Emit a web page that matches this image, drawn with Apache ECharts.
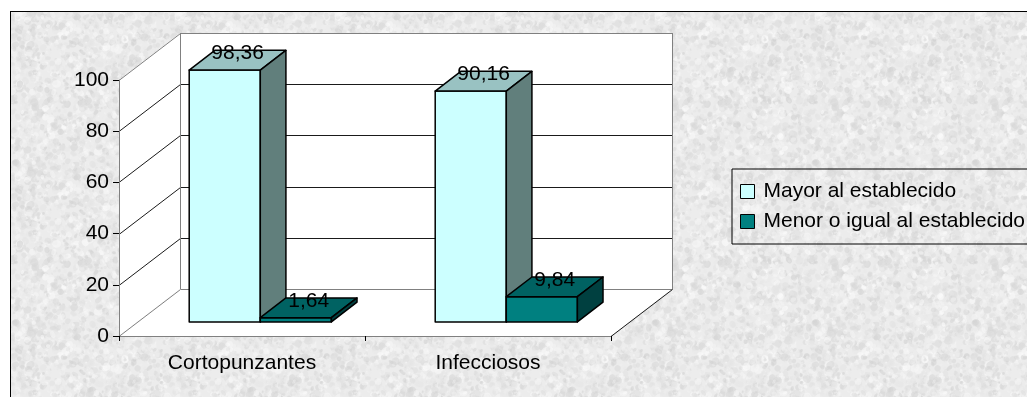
<!DOCTYPE html>
<html>
<head>
<meta charset="utf-8">
<script src="https://cdn.jsdelivr.net/npm/echarts@6/dist/echarts.min.js"></script>
<style>
  html, body { margin: 0; padding: 0; background: #fff; }
  #chart { width: 1027px; height: 397px; }
</style>
</head>
<body>
<div id="chart"></div>
<script>
// ---- data ----
const categories = ['Cortopunzantes', 'Infecciosos'];
const seriesNames = ['Mayor al establecido', 'Menor o igual al establecido'];
const mayorValues = [98.36, 90.16];
const menorValues = [1.64, 9.84];
const yTicks = [0, 20, 40, 60, 80, 100];

// ---- 3D look ----
const DEPTH = [61, -47];          // offset from front plane to back wall
const BAR_FRONT = 0.30;           // bar front face, as a fraction of the depth
const BAR_BACK = 0.72;            // bar back face
const BAR_FRAC = 0.289;           // bar width as a fraction of the category band
const FONT = "'Liberation Sans', Arial, sans-serif";
const FS = 21;

const faces = [
  { front: '#CCFFFF', top: '#99C2C2', side: '#617F7C' },
  { front: '#008080', top: '#006262', side: '#004040' }
];

// granite-like backdrop texture (seeded so it is stable)
function makeTexture() {
  let s = 20240611;
  const rnd = () => { s |= 0; s = s + 0x6D2B79F5 | 0; let t = Math.imul(s ^ s >>> 15, 1 | s);
    t = t + Math.imul(t ^ t >>> 7, 61 | t) ^ t; return ((t ^ t >>> 14) >>> 0) / 4294967296; };
  const N = 160;
  const raw = document.createElement('canvas');
  raw.width = raw.height = N;
  const g = raw.getContext('2d');
  g.fillStyle = '#ececec';
  g.fillRect(0, 0, N, N);
  for (let i = 0; i < 2200; i++) {
    const x = rnd() * N, y = rnd() * N;
    const r = 1 + rnd() * 3;
    const v = Math.round(206 + rnd() * 48);
    const a = 0.35 + rnd() * 0.25;
    g.fillStyle = 'rgba(' + v + ',' + v + ',' + v + ',' + a.toFixed(2) + ')';
    const ry = r * (0.5 + rnd() * 0.7), rot = rnd() * 3.14;
    for (const ox of [-N, 0, N]) for (const oy of [-N, 0, N]) {
      g.beginPath();
      g.ellipse(x + ox, y + oy, r, ry, rot, 0, Math.PI * 2);
      g.fill();
    }
  }
  const out = document.createElement('canvas');
  out.width = out.height = N;
  const o = out.getContext('2d');
  o.filter = 'blur(0.7px)';
  for (const ox of [-N, 0, N]) for (const oy of [-N, 0, N]) o.drawImage(raw, ox, oy);
  return out;
}

function fmt(v) { return v.toFixed(2).replace('.', ','); }

// back wall, side wall, floor and their grid lines
function renderWalls(params, api) {
  const cs = params.coordSys;
  const x0 = cs.x, x1 = cs.x + cs.width;
  const yb = api.coord([0, 0])[1];
  const yt = api.coord([0, 100])[1];
  const dx = DEPTH[0], dy = DEPTH[1];
  const gray = '#808080', dark = '#1a1a1a';
  const children = [
    { type: 'polygon', shape: { points: [[x0, yb], [x0 + dx, yb + dy], [x0 + dx, yt + dy], [x0, yt]] },
      style: { fill: '#fff' } },
    { type: 'rect', shape: { x: x0 + dx, y: yt + dy, width: x1 - x0, height: yb - yt },
      style: { fill: '#fff' } },
    { type: 'polygon', shape: { points: [[x0, yb], [x1, yb], [x1 + dx, yb + dy], [x0 + dx, yb + dy]] },
      style: { fill: '#fff' } }
  ];
  yTicks.forEach(v => {
    const y = Math.round(api.coord([0, v])[1]) + 0.5;
    const edge = (v === 0 || v === 100);
    const col = edge ? gray : dark;
    children.push({ type: 'line', shape: { x1: x0, y1: y, x2: x0 + dx + 0.5, y2: y + dy },
      style: { stroke: col, lineWidth: 1 } });
    children.push({ type: 'line', shape: { x1: x0 + dx + 0.5, y1: y + dy, x2: x1 + dx + 0.5, y2: y + dy },
      style: { stroke: col, lineWidth: 1 } });
  });
  children.push({ type: 'line', shape: { x1: x0 + dx + 0.5, y1: yt + dy, x2: x0 + dx + 0.5, y2: yb + dy },
    style: { stroke: gray, lineWidth: 1 } });
  children.push({ type: 'line', shape: { x1: x1 + dx + 0.5, y1: yt + dy, x2: x1 + dx + 0.5, y2: yb + dy },
    style: { stroke: gray, lineWidth: 1 } });
  children.push({ type: 'line', shape: { x1: x1, y1: yb + 0.5, x2: x1 + dx + 0.5, y2: yb + dy + 0.5 },
    style: { stroke: dark, lineWidth: 1 } });
  return { type: 'group', children };
}

// a 3D column: front, top and right faces plus its value label
function makeBarRenderer(idx) {
  return function (params, api) {
    const cat = api.value(0), val = api.value(1);
    const p = api.coord([cat, val]);
    const p0 = api.coord([cat, 0]);
    const band = api.size([1, 0])[0];
    const w = band * BAR_FRAC;
    const fx = DEPTH[0] * BAR_FRONT, fy = DEPTH[1] * BAR_FRONT;
    const bx = DEPTH[0] * (BAR_BACK - BAR_FRONT), by = DEPTH[1] * (BAR_BACK - BAR_FRONT);
    const left = p[0] + (idx - 1) * w + fx;
    const right = left + w;
    const top = p[1] + fy, bottom = p0[1] + fy;
    const c = faces[idx];
    const line = { stroke: '#000', lineWidth: 1.5, lineJoin: 'round' };
    return {
      type: 'group',
      children: [
        { type: 'polygon', shape: { points: [[left, top], [right, top], [right, bottom], [left, bottom]] },
          style: Object.assign({ fill: c.front }, line) },
        { type: 'polygon', shape: { points: [[left, top], [right, top], [right + bx, top + by], [left + bx, top + by]] },
          style: Object.assign({ fill: c.top }, line) },
        { type: 'polygon', shape: { points: [[right, top], [right + bx, top + by], [right + bx, bottom + by], [right, bottom]] },
          style: Object.assign({ fill: c.side }, line) },
        { type: 'text', z2: 10,
          style: { x: (left + right + bx) / 2, y: top + by / 2 - 7, text: fmt(val),
            fill: '#000', font: FS + 'px ' + FONT, align: 'center', verticalAlign: 'middle' } }
      ]
    };
  };
}

const chart = echarts.init(document.getElementById('chart'), null, { renderer: 'canvas' });

chart.setOption({
  animation: false,
  backgroundColor: { image: makeTexture(), repeat: 'repeat' },
  textStyle: { fontFamily: FONT },
  graphic: [
    { type: 'rect', shape: { x: 0, y: 0, width: 1027, height: 11 }, style: { fill: '#fff' } },
    { type: 'rect', shape: { x: 0, y: 0, width: 10, height: 397 }, style: { fill: '#fff' } },
    { type: 'line', shape: { x1: 10, y1: 11.5, x2: 1027, y2: 11.5 }, style: { stroke: '#000', lineWidth: 1 } },
    { type: 'line', shape: { x1: 10.5, y1: 11, x2: 10.5, y2: 397 }, style: { stroke: '#000', lineWidth: 1 } }
  ],
  grid: { left: 119, top: 80, width: 492, height: 256, containLabel: false },
  xAxis: {
    type: 'category',
    data: categories,
    boundaryGap: true,
    axisLine: { lineStyle: { color: '#808080', width: 1 } },
    axisTick: { show: true, length: 5, lineStyle: { color: '#000' } },
    axisLabel: { color: '#000', fontSize: FS, fontFamily: FONT, margin: 17 },
    splitLine: { show: false }
  },
  yAxis: {
    type: 'value',
    min: 0, max: 100, interval: 20,
    axisLine: { show: true, lineStyle: { color: '#808080', width: 1 } },
    axisTick: { show: true, length: 6, lineStyle: { color: '#000' } },
    axisLabel: { color: '#000', fontSize: FS, fontFamily: FONT, margin: 10 },
    splitLine: { show: false }
  },
  legend: {
    orient: 'vertical',
    left: 732, top: 169,
    data: seriesNames,
    selectedMode: false,
    icon: 'rect',
    itemWidth: 14, itemHeight: 14, itemGap: 9,
    borderColor: '#000', borderWidth: 1,
    padding: [12, 30, 12, 8],
    itemStyle: { borderColor: '#000', borderWidth: 1 },
    textStyle: { color: '#000', fontSize: FS, fontFamily: FONT, lineHeight: 21, padding: [0, 0, 0, 4] }
  },
  series: [
    {
      type: 'custom', name: 'walls', z: -1, silent: true,
      renderItem: renderWalls, data: [[0, 0]]
    },
    {
      type: 'custom', name: seriesNames[0],
      itemStyle: { color: faces[0].front },
      renderItem: makeBarRenderer(0),
      data: categories.map((c, i) => [i, mayorValues[i]])
    },
    {
      type: 'custom', name: seriesNames[1],
      itemStyle: { color: faces[1].front },
      renderItem: makeBarRenderer(1),
      data: categories.map((c, i) => [i, menorValues[i]])
    }
  ]
});
</script>
</body>
</html>
